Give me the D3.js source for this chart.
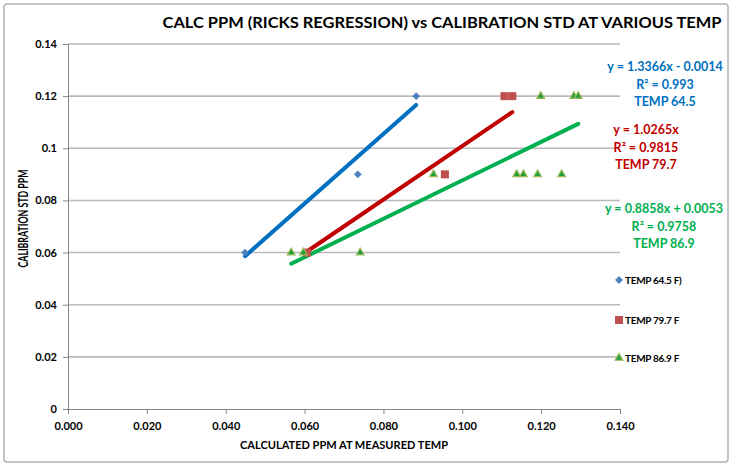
<!DOCTYPE html>
<html>
<head>
<meta charset="utf-8">
<script src="https://cdn.jsdelivr.net/npm/d3@7"></script>
<style>
  body { margin: 0; background: #fff; }
  #plot1 { width: 731px; height: 466px; }
  text { font-family: Lato, "Open Sans", sans-serif; font-weight: bold; }
</style>
</head>
<body>
<div id="plot1"></div>
<script>
// Data
const seriesNames = ["TEMP 64.5 F)", "TEMP 79.7 F", "TEMP 86.9 F"];
const blueX = [0.0449, 0.0735, 0.0883];
const blueY = [0.06, 0.09, 0.12];
const redX = [0.0606, 0.0956, 0.1107, 0.1127];
const redY = [0.06, 0.09, 0.12, 0.12];
const greenX = [0.0566, 0.0597, 0.0741, 0.0927, 0.1138, 0.1155, 0.1191, 0.1252, 0.1199, 0.1283, 0.1294];
const greenY = [0.06, 0.06, 0.06, 0.09, 0.09, 0.09, 0.09, 0.09, 0.12, 0.12, 0.12];
// trendlines as drawn in the picture (green line is the plain fit of its points)
const trendSlopes = [1.3366, 1.0265, 0.737];
const trendIntercepts = [-0.0014, -0.0018, 0.014];
const eqLabels = [
  ["y = 1.3366x - 0.0014", "R\u00b2 = 0.993", "TEMP 64.5"],
  ["y = 1.0265x", "R\u00b2 = 0.9815", "TEMP 79.7"],
  ["y = 0.8858x + 0.0053", "R\u00b2 = 0.9758", "TEMP 86.9"]
];
const xTicks = [0, 0.02, 0.04, 0.06, 0.08, 0.10, 0.12, 0.14];
const yTicks = [0, 0.02, 0.04, 0.06, 0.08, 0.1, 0.12, 0.14];

const W = 731, H = 466;
const margin = { top: 44, right: 111, bottom: 57, left: 68 };
const width = W - margin.left - margin.right;
const height = H - margin.top - margin.bottom;

const markerFill = ["#4F81BD", "#C0504D", "#1E9E3A"];
const lineColor = ["#0070C0", "#C00000", "#00B050"];

const svg = d3.select("#plot1").append("svg")
  .attr("width", W).attr("height", H);

// chart border
svg.append("rect")
  .attr("x", 4).attr("y", 4).attr("width", W - 7).attr("height", H - 8)
  .attr("rx", 3).attr("fill", "none")
  .attr("stroke", "#B3B3B3").attr("stroke-width", 1.5);

const g = svg.append("g").attr("transform", `translate(${margin.left},${margin.top})`);

const x = d3.scaleLinear().domain([0, 0.14]).range([0, width]);
const y = d3.scaleLinear().domain([0, 0.14]).range([height, 0]);

// gridlines
g.append("g").selectAll("line").data(yTicks.slice(1)).join("line")
  .attr("x1", 0).attr("x2", width)
  .attr("y1", d => y(d)).attr("y2", d => y(d))
  .attr("stroke", "#BABABA").attr("stroke-width", 1.6);

// axes
const xAxis = g.append("g").attr("transform", `translate(0,${height})`)
  .call(d3.axisBottom(x).tickValues(xTicks).tickFormat(d3.format(".3f")).tickSize(5).tickPadding(8));
const yAxis = g.append("g")
  .call(d3.axisLeft(y).tickValues(yTicks).tickFormat(d => d === 0 ? "0" : d3.format("")(+d.toFixed(2))).tickSize(5).tickPadding(6));
[xAxis, yAxis].forEach(a => {
  a.select(".domain").attr("stroke", "#868686");
  a.selectAll(".tick line").attr("stroke", "#868686");
  a.selectAll("text").attr("font-size", 11).attr("fill", "#000")
    .style("font-family", "Lato, sans-serif").style("font-weight", "bold");
});

// trendlines
const series = [[blueX, blueY], [redX, redY], [greenX, greenY]];
series.forEach(([xs], i) => {
  const x0 = d3.min(xs), x1 = d3.max(xs);
  g.append("line")
    .attr("x1", x(x0)).attr("y1", y(trendSlopes[i] * x0 + trendIntercepts[i]))
    .attr("x2", x(x1)).attr("y2", y(trendSlopes[i] * x1 + trendIntercepts[i]))
    .attr("stroke", lineColor[i]).attr("stroke-width", 4).attr("stroke-linecap", "round");
});

// markers
const symbols = [
  d3.symbol().type(d3.symbolDiamond2).size(34),
  d3.symbol().type(d3.symbolSquare).size(64),
  d3.symbol().type(d3.symbolTriangle).size(26)
];
function drawMarker(sel, i) {
  sel.attr("d", symbols[i]()).attr("fill", markerFill[i]);
  if (i === 2) sel.attr("stroke", "#9BBB59").attr("stroke-width", 1.2);
  if (i === 0) sel.attr("stroke", "#4F81BD").attr("stroke-width", 0.5);
}
series.forEach(([xs, ys], i) => {
  g.append("g").selectAll("path").data(xs.map((v, k) => [v, ys[k]])).join("path")
    .attr("transform", d => `translate(${x(d[0])},${y(d[1])})`)
    .call(drawMarker, i);
});

// equation labels
const eqPos = [[665, 67], [646, 130], [664, 209]];
eqLabels.forEach((lines, i) => {
  const t = svg.append("text").attr("text-anchor", "middle")
    .attr("font-size", 12.5).attr("fill", lineColor[i]);
  lines.forEach((s, k) => {
    t.append("tspan").attr("x", eqPos[i][0]).attr("y", eqPos[i][1] + k * 17.5 + 4).text(s);
  });
});

// legend
const legY = [280, 320, 358];
seriesNames.forEach((name, i) => {
  svg.append("path").attr("transform", `translate(619,${legY[i]})`).call(drawMarker, i);
  svg.append("text").attr("x", 625).attr("y", legY[i] + 4)
    .attr("font-size", 10).attr("fill", "#000").attr("letter-spacing", -0.3).text(name);
});

// titles
svg.append("text").attr("x", 442).attr("y", 28).attr("text-anchor", "middle")
  .attr("font-size", 16).attr("fill", "#000")
  .attr("textLength", 559).attr("lengthAdjust", "spacingAndGlyphs")
  .text("CALC PPM (RICKS REGRESSION) vs CALIBRATION STD AT VARIOUS TEMP");
svg.append("text").attr("x", margin.left + width / 2).attr("y", 449).attr("text-anchor", "middle")
  .attr("font-size", 11).attr("fill", "#000")
  .attr("textLength", 208).attr("lengthAdjust", "spacingAndGlyphs")
  .text("CALCULATED PPM AT MEASURED TEMP");
svg.append("text").attr("transform", `translate(28,${margin.top + height / 2 - 8}) rotate(-90)`)
  .attr("text-anchor", "middle").attr("font-size", 12.5).attr("fill", "#000")
  .attr("textLength", 98).attr("lengthAdjust", "spacingAndGlyphs")
  .text("CALIBRATION STD  PPM");
</script>
</body>
</html>
